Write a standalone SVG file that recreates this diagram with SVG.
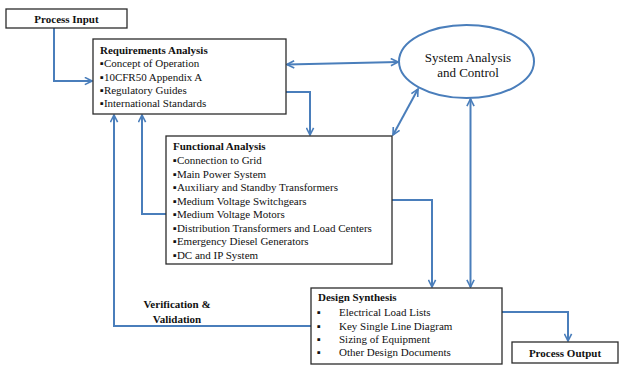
<svg xmlns="http://www.w3.org/2000/svg" width="619" height="367" viewBox="0 0 619 367">
<style>
.box{fill:#fff;stroke:#2b2b2b;stroke-width:1.3}
.c{fill:none;stroke:#4a7ebb;stroke-width:2}
text{font-family:"Liberation Serif","Times New Roman",serif;font-size:11px;fill:#111}
.b{font-weight:bold}
.e{font-size:13px}
</style>
<defs>
<marker id="ah" viewBox="0 0 10 10" refX="9" refY="5" markerWidth="4.5" markerHeight="4.5" orient="auto-start-reverse" markerUnits="strokeWidth">
<path d="M1,1 L9,5 L1,9" fill="none" stroke="#4a7ebb" stroke-width="1.8"/>
</marker>
</defs>
<g id="connectors">
<path class="c" d="M54,28 V81 H92" marker-end="url(#ah)"/>
<path class="c" d="M287,64.5 L398,62" marker-start="url(#ah)" marker-end="url(#ah)"/>
<path class="c" d="M286,92 H310 V135" marker-end="url(#ah)"/>
<path class="c" d="M418,89 L393,135" marker-start="url(#ah)" marker-end="url(#ah)"/>
<path class="c" d="M470.5,99 V287" marker-start="url(#ah)" marker-end="url(#ah)"/>
<path class="c" d="M392,200 H432 V287" marker-end="url(#ah)"/>
<path class="c" d="M502,312 H568 V341" marker-end="url(#ah)"/>
<path class="c" d="M311,326 H114 V115" marker-end="url(#ah)"/>
<path class="c" d="M166,214 H142 V115" marker-end="url(#ah)"/>
</g>
<g id="process-input">
<rect class="box" x="6" y="9" width="121" height="19"/>
<text class="b" x="66.5" y="23" text-anchor="middle">Process Input</text>
</g>
<g id="requirements-analysis">
<rect class="box" x="93" y="39" width="193" height="75"/>
<text class="b" x="100" y="54">Requirements Analysis</text>
<text x="100" y="67">▪Concept of Operation</text>
<text x="100" y="80.5">▪10CFR50 Appendix A</text>
<text x="100" y="94">▪Regulatory Guides</text>
<text x="100" y="107">▪International Standards</text>
</g>
<g id="system-analysis">
<ellipse cx="466.5" cy="61.5" rx="67.5" ry="36.5" fill="#fff" stroke="#4a7ebb" stroke-width="2"/>
<text class="e" x="468" y="62" text-anchor="middle">System Analysis</text>
<text class="e" x="468" y="76.5" text-anchor="middle">and Control</text>
</g>
<g id="functional-analysis">
<rect class="box" x="166" y="136" width="226" height="128"/>
<text class="b" x="173" y="150">Functional Analysis</text>
<text x="173" y="164">▪Connection to Grid</text>
<text x="173" y="177.5">▪Main Power System</text>
<text x="173" y="191">▪Auxiliary and Standby Transformers</text>
<text x="173" y="204.5">▪Medium Voltage Switchgears</text>
<text x="173" y="218">▪Medium Voltage Motors</text>
<text x="173" y="231.5">▪Distribution Transformers and Load Centers</text>
<text x="173" y="245">▪Emergency Diesel Generators</text>
<text x="173" y="258.5">▪DC and IP System</text>
</g>
<g id="design-synthesis">
<rect class="box" x="311" y="288" width="191" height="76"/>
<text class="b" x="318" y="301">Design Synthesis</text>
<text x="317" y="316">▪</text><text x="339" y="316">Electrical  Load Lists</text>
<text x="317" y="329.5">▪</text><text x="339" y="329.5">Key Single Line Diagram</text>
<text x="317" y="343">▪</text><text x="339" y="343">Sizing of Equipment</text>
<text x="317" y="356">▪</text><text x="339" y="356">Other Design Documents</text>
</g>
<g id="process-output">
<rect class="box" x="512" y="342" width="106" height="21"/>
<text class="b" x="565" y="356.5" text-anchor="middle">Process Output</text>
</g>
<g id="vv-label">
<text class="b" x="177" y="308" text-anchor="middle">Verification  &amp;</text>
<text class="b" x="177" y="323" text-anchor="middle">Validation</text>
</g>
</svg>
